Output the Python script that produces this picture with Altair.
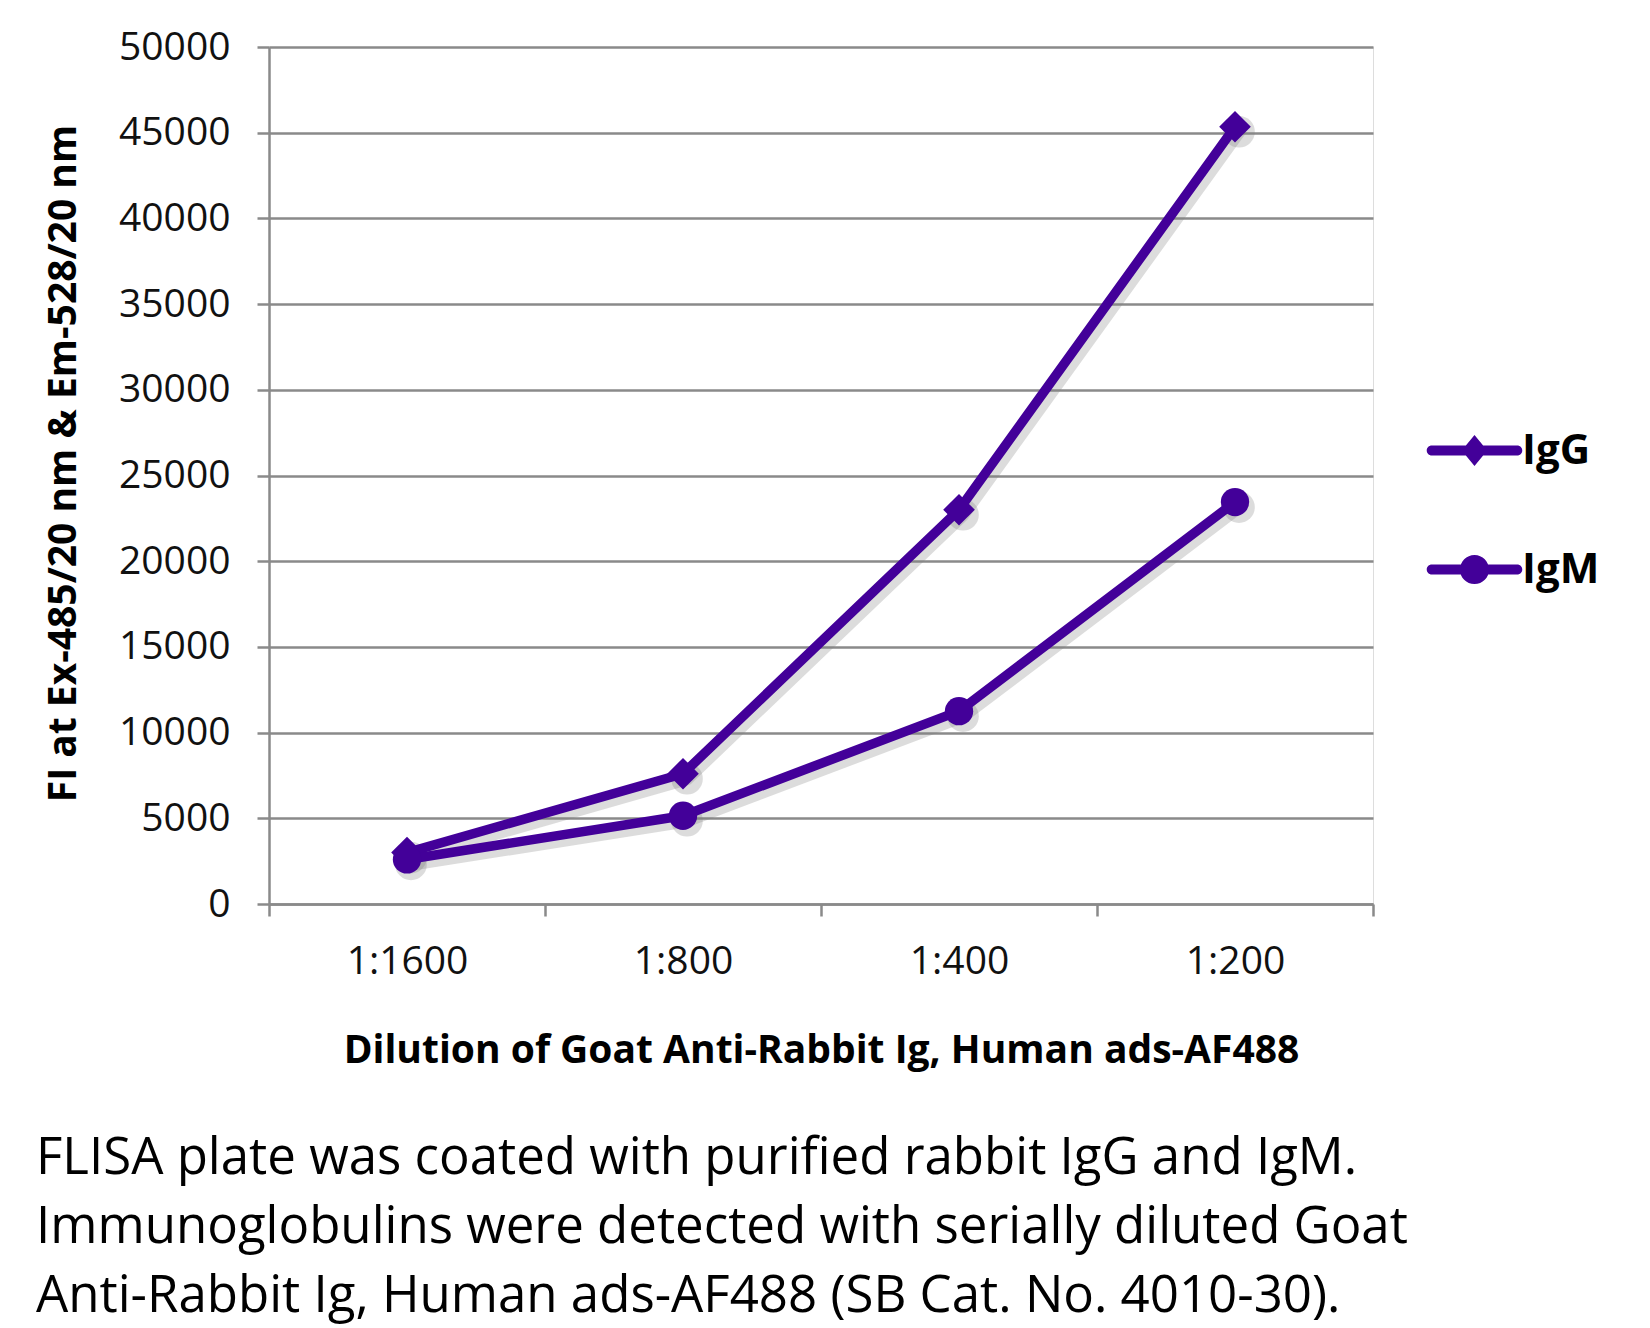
import altair as alt
import pandas as pd

# ---------------- data ----------------
dilutions = ["1:1600", "1:800", "1:400", "1:200"]
series_names = ["IgG", "IgM"]
igg_values = [3000, 7600, 23000, 45350]
igm_values = [2600, 5150, 11250, 23450]
y_tick_values = [0, 5000, 10000, 15000, 20000, 25000, 30000, 35000, 40000, 45000, 50000]

x_title = "Dilution of Goat Anti-Rabbit Ig, Human ads-AF488"
y_title = "FI at Ex-485/20 nm & Em-528/20 nm"
caption_lines = [
    "FLISA plate was coated with purified rabbit IgG and IgM.",
    "Immunoglobulins were detected with serially diluted Goat",
    "Anti-Rabbit Ig, Human ads-AF488 (SB Cat. No. 4010-30).",
]

# ---------------- style ----------------
PURPLE = "#430099"
GRID = "#8a8a8a"
FONT = "Open Sans"

# legend symbols: line with a marker on it (unit box -1..1), all clockwise
LINE_PATH = ("M-0.94,-0.11 L0.94,-0.11 A0.11,0.11 0 0 1 0.94,0.11 "
             "L-0.94,0.11 A0.11,0.11 0 0 1 -0.94,-0.11 Z")
IGG_SYMBOL = LINE_PATH + " M0,-0.34 L0.28,0 L0,0.34 L-0.28,0 Z"
IGM_SYMBOL = (LINE_PATH + " M-0.32,0 A0.32,0.32 0 1 1 0.32,0 "
              "A0.32,0.32 0 1 1 -0.32,0 Z")

rows = []
for d, g, m in zip(dilutions, igg_values, igm_values):
    rows.append({"dilution": d, "series": "IgG", "value": g})
    rows.append({"dilution": d, "series": "IgM", "value": m})
df = pd.DataFrame(rows)

x_enc = alt.X(
    "dilution:N",
    sort=dilutions,
    bandPosition=0.5,
    scale=alt.Scale(type="band", domain=dilutions, paddingInner=0, paddingOuter=0),
    axis=alt.Axis(
        title=x_title,
        labelAngle=0,
        tickBand="extent",
        labelFont=FONT, labelFontSize=39, labelColor="#111111",
        labelPadding=26, tickSize=12, tickColor=GRID, tickWidth=2.5,
        domainColor=GRID, domainWidth=2.5,
        titleFont=FONT, titleFontSize=39, titleFontWeight="bold", titleColor="black",
        titleX=552, titleY=146, titleAlign="center", titleBaseline="middle",
        grid=False,
    ),
)
y_enc = alt.Y(
    "value:Q",
    scale=alt.Scale(domain=[0, 50000], nice=False, zero=True),
    axis=alt.Axis(
        title=y_title,
        values=y_tick_values,
        format="d",
        labelFont=FONT, labelFontSize=39, labelColor="#111111",
        labelPadding=27, tickSize=12, tickColor=GRID, tickWidth=2.5,
        domainColor=GRID, domainWidth=2.5,
        grid=True, gridColor=GRID, gridWidth=2.5,
        titleFont=FONT, titleFontSize=39, titleFontWeight="bold", titleColor="black",
        titleAngle=270, titleX=-206, titleY=416, titleAlign="center",
        titleBaseline="middle",
    ),
)

base = alt.Chart(df)

shadow_line = base.mark_line(
    color="#808080", opacity=0.28, strokeWidth=13, xOffset=4, yOffset=5,
    strokeJoin="round", strokeCap="round"
).encode(x=x_enc, y=y_enc, detail="series:N")

shadow_pts = base.mark_point(
    shape="circle", filled=True, color="#808080", opacity=0.28, size=1000,
    xOffset=4, yOffset=5
).encode(x=x_enc, y=y_enc)

igg_line = base.transform_filter(alt.datum.series == "IgG").mark_line(
    color=PURPLE, strokeWidth=9.5, strokeJoin="round"
).encode(x=x_enc, y=y_enc)
igg_pts = base.transform_filter(alt.datum.series == "IgG").mark_point(
    shape="diamond", filled=True, color=PURPLE, opacity=1, size=1000
).encode(x=x_enc, y=y_enc)

igm_line = base.transform_filter(alt.datum.series == "IgM").mark_line(
    color=PURPLE, strokeWidth=9.5, strokeJoin="round"
).encode(x=x_enc, y=y_enc)
igm_pts = base.transform_filter(alt.datum.series == "IgM").mark_point(
    shape="circle", filled=True, color=PURPLE, opacity=1, size=804
).encode(x=x_enc, y=y_enc)

legend_layer = base.transform_filter("false").mark_point(
    filled=True, color=PURPLE, opacity=1, strokeWidth=0
).encode(
    shape=alt.Shape(
        "series:N",
        scale=alt.Scale(domain=series_names, range=[IGG_SYMBOL, IGM_SYMBOL]),
        legend=alt.Legend(
            title=None, orient="none", legendX=1160, legendY=358,
            symbolSize=8281, symbolFillColor=PURPLE, symbolStrokeWidth=0,
            symbolOpacity=1, rowPadding=52, labelOffset=2, padding=0,
            labelFont=FONT, labelFontSize=42, labelFontWeight="bold",
            labelColor="black",
        ),
    )
)

chart = alt.layer(
    shadow_line, shadow_pts, igg_line, igg_pts, igm_line, igm_pts, legend_layer
).properties(
    width=1104,
    height=857,
    autosize=alt.AutoSizeParams(type="none"),
    padding={"left": 269, "top": 47, "right": 277, "bottom": 424},
    title=alt.TitleParams(
        text=caption_lines, orient="bottom", anchor="start", frame="group",
        dx=-233, offset=64, font=FONT, fontSize=51, fontWeight="normal",
        color="black", lineHeight=69, baseline="top",
    ),
).configure_view(stroke=None).configure(background="white")

chart.save("out.html", embed_options={"renderer": "svg", "actions": False})
